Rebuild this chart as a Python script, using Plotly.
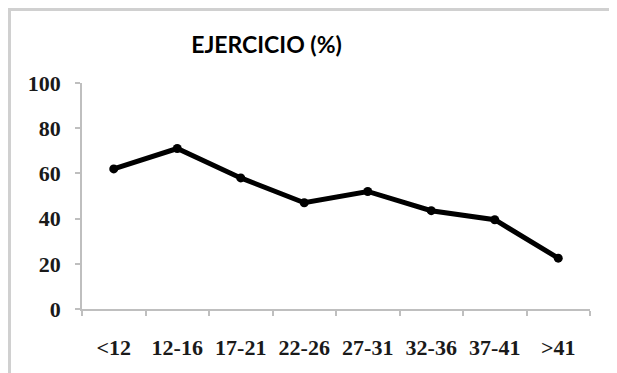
import plotly.graph_objects as go

categories = ["<12", "12-16", "17-21", "22-26", "27-31", "32-36", "37-41", ">41"]
values = [62, 71, 58, 47, 52, 43.5, 39.5, 22.5]
y_ticks = [0, 20, 40, 60, 80, 100]
title_text = "EJERCICIO (%)"

W, H = 617, 373
OFF = 8  # page body margin offset
# desired on-screen plot area: x 82..590, y 83..309
SL, SR, ST, SB = 82, 590, 83, 309
L, T = SL - OFF, ST - OFF
R, B = W - (SR - OFF), H - (SB - OFF)
pw, ph = SR - SL, SB - ST

def px_x(p):
    return (p - SL) / pw

def px_y(p):
    return (SB - p) / ph

fig = go.Figure()
fig.add_trace(go.Scatter(
    x=categories, y=values, mode="lines+markers",
    line=dict(color="black", width=5),
    marker=dict(color="black", size=9),
    showlegend=False,
))

axis_col = "#bfbfbf"
tick_font = dict(family="Liberation Serif", size=22, color="#1a1a1a", weight="bold")

fig.update_layout(
    width=W, height=H,
    margin=dict(l=L, r=R, t=T, b=B, autoexpand=False),
    paper_bgcolor="white", plot_bgcolor="white",
    title=dict(text="<b>" + title_text + "</b>", xref="container", yref="container",
               x=(266.5 - OFF) / W, y=1 - (45 - OFF) / H, xanchor="center", yanchor="middle",
               font=dict(family="Lato", size=23, color="black")),
    xaxis=dict(type="category", range=[-0.5, 7.5], showgrid=False,
               showline=True, linecolor=axis_col, linewidth=1.5,
               ticks="outside", tickson="boundaries", ticklen=5, tickcolor=axis_col,
               tickwidth=1.5, tickfont=tick_font, ticklabelstandoff=18),
    yaxis=dict(range=[0, 100], tickvals=y_ticks, showgrid=False, zeroline=False,
               showline=True, linecolor=axis_col, linewidth=1.5,
               ticks="outside", ticklen=5, tickcolor=axis_col, tickwidth=1.5,
               tickfont=tick_font, ticklabelstandoff=10),
)

border_col = "#d0d0d0"
bx = OFF + 1.5
by = OFF + 1.5
fig.add_shape(type="line", xref="paper", yref="paper",
              x0=px_x(bx), y0=px_y(H + 20), x1=px_x(bx), y1=px_y(by - 1.5),
              line=dict(color=border_col, width=3))
fig.add_shape(type="line", xref="paper", yref="paper",
              x0=px_x(bx - 1.5), y0=px_y(by), x1=px_x(W + 20), y1=px_y(by),
              line=dict(color=border_col, width=3))

fig.write_html("out.html")
